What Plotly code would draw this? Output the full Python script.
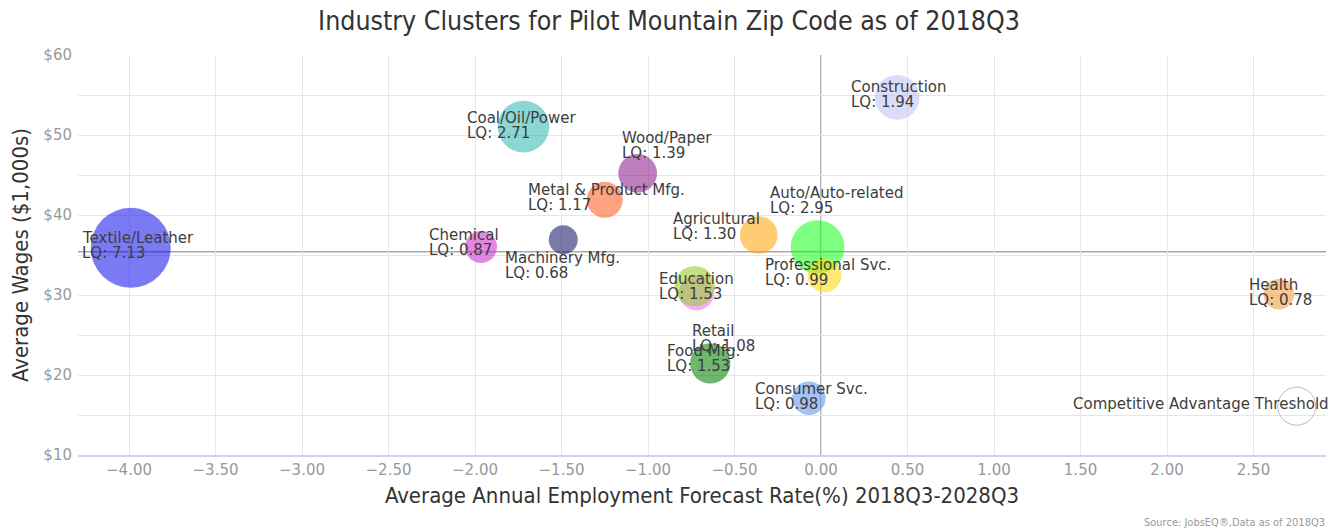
import plotly.graph_objects as go

# ---- data ----
names = ["Textile/Leather", "Chemical", "Machinery Mfg.", "Coal/Oil/Power", "Wood/Paper",
         "Metal & Product Mfg.", "Agricultural", "Auto/Auto-related", "Professional Svc.",
         "Retail", "Education", "Food Mfg.", "Consumer Svc.", "Construction", "Health"]
growth = [-3.99, -1.965, -1.49, -1.72, -1.06, -1.25, -0.36, -0.02, 0.02,
          -0.72, -0.73, -0.64, -0.07, 0.44, 2.647]
wages = [35.9, 36.0, 36.9, 51.05, 45.2, 41.9, 37.5, 36.0, 32.45,
         30.25, 31.1, 21.45, 17.1, 54.7, 30.1]
lq = [7.13, 0.87, 0.68, 2.71, 1.39, 1.17, 1.30, 2.95, 0.99,
      1.08, 1.53, 1.53, 0.98, 1.94, 0.78]

threshold_name = "Competitive Advantage Threshold"
threshold_x = [2.75]
threshold_y = [16.1]

avg_wage = 35.4
x_ticks = [-4.0, -3.5, -3.0, -2.5, -2.0, -1.5, -1.0, -0.5, 0.0, 0.5, 1.0, 1.5, 2.0, 2.5]
y_ticks = [10, 20, 30, 40, 50, 60]
y_tick_text = [f"${v}" for v in y_ticks]

# ---- styles ----
colors = ["rgba(0,0,235,0.52)", "rgba(200,40,200,0.55)", "rgba(0,0,90,0.52)",
          "rgba(32,178,170,0.52)", "rgba(128,0,128,0.5)", "rgba(255,100,45,0.6)",
          "rgba(255,160,0,0.55)", "rgba(0,255,0,0.5)", "rgba(255,215,0,0.55)",
          "rgba(238,120,238,0.6)", "rgba(154,205,50,0.6)", "rgba(0,128,0,0.57)",
          "rgba(100,149,237,0.58)", "rgba(190,190,245,0.55)", "rgba(240,160,70,0.6)"]
sizes = [2 * (13.8 * v ** 0.5 + 3.1) for v in lq]

# label placement: (left offset px, first-line vertical offset px, screen-down positive)
label_pos = {
    "Textile/Leather": (-49.3, -9.5), "Chemical": (-52.7, -12.5), "Machinery Mfg.": (-58.8, 18.3),
    "Coal/Oil/Power": (-57, -9), "Wood/Paper": (-17, -35), "Metal & Product Mfg.": (-77.3, -10),
    "Agricultural": (-86.3, -16.5), "Auto/Auto-related": (-48.7, -53.7),
    "Professional Svc.": (-60.7, -10.5), "Retail": (-5.3, 37.8), "Education": (-36.7, -7),
    "Food Mfg.": (-44.5, -12.7), "Consumer Svc.": (-55, -9.5), "Construction": (-47.2, -10),
    "Health": (-31.3, -9.3),
}
LABEL_FONT = dict(family="DejaVu Sans", size=15, color="#3d3d3d")
NARROW = "Liberation Sans Narrow, Arial Narrow, DejaVu Sans Condensed, sans-serif"

# the page body adds an 8px offset, so the figure is drawn 8px smaller
W, H, OFF = 1330, 523, 8

fig = go.Figure()
fig.add_trace(go.Scatter(
    x=growth, y=wages, mode="markers", text=names,
    marker=dict(size=sizes, sizemode="diameter", color=colors, opacity=1, line=dict(width=0)),
    customdata=lq, hovertemplate="%{text}<br>LQ: %{customdata:.2f}<extra></extra>",
    showlegend=False))
fig.add_trace(go.Scatter(
    x=threshold_x, y=threshold_y, mode="markers",
    marker=dict(size=38, color="rgba(255,255,255,0)", opacity=1, line=dict(width=1, color="#bbbbbb")),
    hoverinfo="skip", showlegend=False))

annotations = []
for n, gx, wy, q in zip(names, growth, wages, lq):
    dx, dy = label_pos[n]
    for i, line in enumerate([n, f"LQ: {q:.2f}"]):
        annotations.append(dict(x=gx, y=wy, xref="x", yref="y", text=line, showarrow=False,
                                xanchor="left", yanchor="middle", xshift=dx, yshift=-(dy + 15 * i),
                                font=LABEL_FONT, borderpad=0))
annotations.append(dict(x=threshold_x[0], y=threshold_y[0], xref="x", yref="y", text=threshold_name,
                        showarrow=False, xanchor="left", yanchor="middle", xshift=-224.3, yshift=2.3,
                        font=LABEL_FONT, borderpad=0))
annotations.append(dict(x=1, y=0, xref="paper", yref="paper", text="Source: JobsEQ®,Data as of 2018Q3",
                        showarrow=False, xanchor="right", yanchor="middle", xshift=1, yshift=-67,
                        font=dict(family=NARROW, size=11, color="#999999")))

fig.update_layout(
    width=W, height=H,
    margin=dict(l=78 - OFF, r=12, t=55 - OFF, b=76),
    paper_bgcolor="white", plot_bgcolor="white",
    title=dict(text="Industry Clusters for Pilot Mountain Zip Code as of 2018Q3",
               x=(669 - OFF) / W, xref="container", xanchor="center", y=1 - (21 - OFF) / H,
               yref="container", yanchor="middle",
               font=dict(family=NARROW, size=26.5, color="#333333")),
    xaxis=dict(range=[-4.295, 2.919], tickvals=x_ticks, tickformat=".2f", automargin=False,
               showgrid=True, gridcolor="#e6e6e6", gridwidth=1, zeroline=False,
               showline=True, linecolor="#ccd6eb", linewidth=2,
               ticks="", ticklen=0,
               tickfont=dict(family="DejaVu Sans", size=15, color="#999999"),
               title=dict(text="Average Annual Employment Forecast Rate(%) 2018Q3-2028Q3",
                          font=dict(family=NARROW, size=22, color="#333333"), standoff=10)),
    yaxis=dict(range=[10, 60], tickvals=y_ticks, ticktext=y_tick_text, automargin=False,
               showgrid=True, gridcolor="#e6e6e6", gridwidth=1, zeroline=False, showline=False,
               minor=dict(dtick=5, showgrid=True, gridcolor="#e6e6e6"),
               ticks="", ticklen=0, ticklabelstandoff=5,
               tickfont=dict(family="DejaVu Sans", size=15, color="#999999"),
               title=dict(text="Average Wages ($1,000s)",
                          font=dict(family=NARROW, size=22, color="#333333"), standoff=9)),
    shapes=[
        dict(type="line", xref="x", yref="paper", x0=0, x1=0, y0=0, y1=1,
             line=dict(color="#999999", width=1.5), layer="between"),
        dict(type="line", xref="paper", yref="y", x0=0, x1=1, y0=avg_wage, y1=avg_wage,
             line=dict(color="#aaaaaa", width=1.5), layer="between"),
    ],
    annotations=annotations,
)

fig.write_html("out.html")
